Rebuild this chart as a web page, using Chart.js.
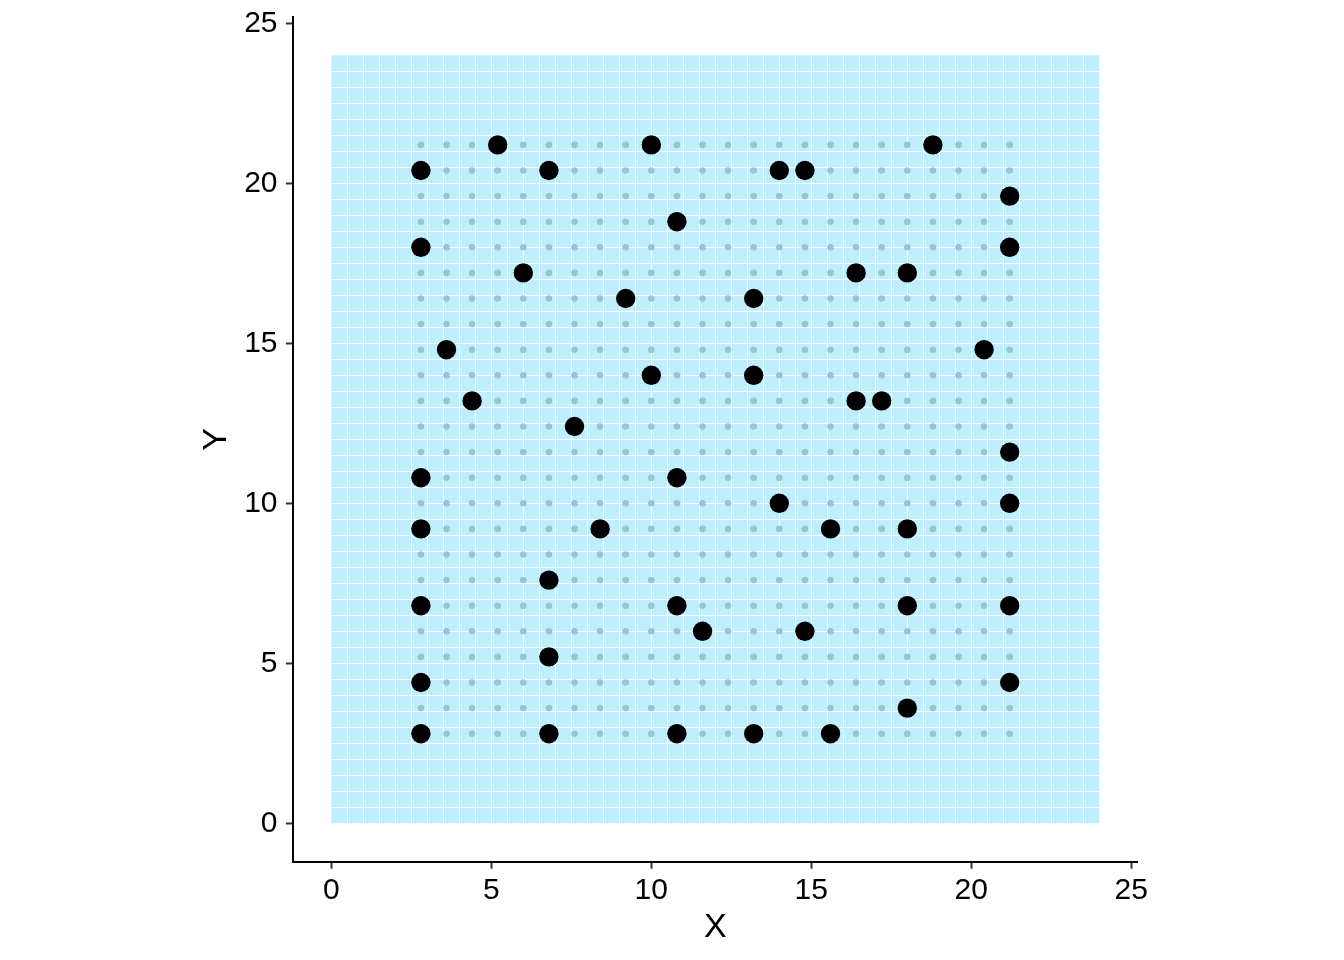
<!DOCTYPE html>
<html>
<head>
<meta charset="utf-8">
<script src="https://cdn.jsdelivr.net/npm/chart.js@4.4.1/dist/chart.umd.min.js"></script>
<style>
html, body { margin: 0; padding: 0; background: #ffffff; }
canvas { display: block; }
</style>
</head>
<body>
<canvas id="c" width="1344" height="960"></canvas>
<script>
// ---- data ----
const tickValuesX = [0, 5, 10, 15, 20, 25];
const tickValuesY = [0, 5, 10, 15, 20, 25];

// raster cell edges (light-blue tiles, 0.5 units)
const rasterBreaks = [0, 0.5, 1, 1.5, 2, 2.5, 3, 3.5, 4, 4.5, 5, 5.5, 6, 6.5, 7, 7.5, 8, 8.5, 9, 9.5,
  10, 10.5, 11, 11.5, 12, 12.5, 13, 13.5, 14, 14.5, 15, 15.5, 16, 16.5, 17, 17.5, 18, 18.5, 19, 19.5,
  20, 20.5, 21, 21.5, 22, 22.5, 23, 23.5, 24];

// candidate grid (small grey dots)
const gridX = [2.8, 3.6, 4.4, 5.2, 6.0, 6.8, 7.6, 8.4, 9.2, 10.0, 10.8, 11.6, 12.4, 13.2, 14.0, 14.8,
  15.6, 16.4, 17.2, 18.0, 18.8, 19.6, 20.4, 21.2];
const gridY = [2.8, 3.6, 4.4, 5.2, 6.0, 6.8, 7.6, 8.4, 9.2, 10.0, 10.8, 11.6, 12.4, 13.2, 14.0, 14.8,
  15.6, 16.4, 17.2, 18.0, 18.8, 19.6, 20.4, 21.2];

// selected points (large black dots)
const pointX = [5.2, 10.0, 18.8, 2.8, 6.8, 14.0, 14.8, 21.2, 10.8, 2.8, 21.2, 6.0, 16.4, 18.0, 9.2, 13.2,
  3.6, 20.4, 10.0, 13.2, 4.4, 16.4, 17.2, 7.6, 21.2, 2.8, 10.8, 14.0, 21.2, 2.8, 8.4, 15.6, 18.0,
  6.8, 2.8, 10.8, 18.0, 21.2, 11.6, 14.8, 6.8, 2.8, 21.2, 18.0, 2.8, 6.8, 10.8, 13.2, 15.6];
const pointY = [21.2, 21.2, 21.2, 20.4, 20.4, 20.4, 20.4, 19.6, 18.8, 18.0, 18.0, 17.2, 17.2, 17.2, 16.4, 16.4,
  14.8, 14.8, 14.0, 14.0, 13.2, 13.2, 13.2, 12.4, 11.6, 10.8, 10.8, 10.0, 10.0, 9.2, 9.2, 9.2, 9.2,
  7.6, 6.8, 6.8, 6.8, 6.8, 6.0, 6.0, 5.2, 4.4, 4.4, 3.6, 2.8, 2.8, 2.8, 2.8, 2.8];

// ---- build datasets ----
const gridData = [];
gridY.forEach(yv => gridX.forEach(xv => gridData.push({ x: xv, y: yv })));
const pointData = pointX.map((xv, i) => ({ x: xv, y: pointY[i] }));

const FONT = "'Liberation Sans', Arial, sans-serif";
const rasterFill = '#bfefff';

const rasterPlugin = {
  id: 'raster',
  beforeDatasetsDraw(chart) {
    const { ctx, scales: { x, y } } = chart;
    const n = rasterBreaks.length;
    const left = x.getPixelForValue(rasterBreaks[0]);
    const right = x.getPixelForValue(rasterBreaks[n - 1]);
    const bottom = y.getPixelForValue(rasterBreaks[0]);
    const top = y.getPixelForValue(rasterBreaks[n - 1]);
    ctx.save();
    ctx.fillStyle = rasterFill;
    ctx.fillRect(left, top, right - left, bottom - top);
    ctx.fillStyle = '#ffffff';
    for (let i = 1; i < n - 1; i++) {
      const px = Math.floor(x.getPixelForValue(rasterBreaks[i]));
      ctx.fillRect(px, top, 1, bottom - top);
      const py = Math.floor(y.getPixelForValue(rasterBreaks[i]));
      ctx.fillRect(left, py, right - left, 1);
    }
    ctx.restore();
  }
};

new Chart(document.getElementById('c'), {
  type: 'scatter',
  data: {
    datasets: [
      {
        label: 'selected',
        data: pointData,
        pointRadius: 9.7,
        pointBorderWidth: 0,
        backgroundColor: '#000000',
        borderColor: '#000000'
      },
      {
        label: 'grid',
        data: gridData,
        pointRadius: 3.3,
        pointBorderWidth: 0,
        backgroundColor: '#9ac3d3',
        borderColor: '#9ac3d3'
      }
    ]
  },
  options: {
    responsive: false,
    animation: false,
    events: [],
    layout: { padding: { left: 196.6, right: 206.3, top: 16.9, bottom: 12.4 } },
    plugins: {
      legend: { display: false },
      tooltip: { enabled: false }
    },
    scales: {
      x: {
        type: 'linear',
        position: 'bottom',
        min: -1.2,
        max: 25.2,
        afterBuildTicks: s => { s.ticks = tickValuesX.map(v => ({ value: v })); },
        afterFit: s => { s.height = 85.9; s.paddingLeft = 0; s.paddingRight = 0; },
        grid: { drawOnChartArea: false, drawTicks: true, tickLength: 7, tickWidth: 2, tickColor: '#333333' },
        border: { display: true, color: '#000000', width: 2 },
        ticks: { color: '#000000', font: { family: FONT, size: 30 }, padding: 4.3, maxRotation: 0, autoSkip: false },
        title: { display: true, text: 'X', color: '#000000', font: { family: FONT, size: 34 }, padding: 0 }
      },
      y: {
        type: 'linear',
        position: 'left',
        min: -1.2,
        max: 25.2,
        afterBuildTicks: s => { s.ticks = tickValuesY.map(v => ({ value: v })); },
        afterFit: s => { s.width = 96.3; s.paddingTop = 0; s.paddingBottom = 0; },
        grid: { drawOnChartArea: false, drawTicks: true, tickLength: 7, tickWidth: 2, tickColor: '#333333' },
        border: { display: true, color: '#000000', width: 2 },
        ticks: { color: '#000000', font: { family: FONT, size: 30 }, padding: 8.4, autoSkip: false },
        title: { display: true, text: 'Y', color: '#000000', font: { family: FONT, size: 34 }, padding: 0 }
      }
    }
  },
  plugins: [rasterPlugin]
});
</script>
</body>
</html>
